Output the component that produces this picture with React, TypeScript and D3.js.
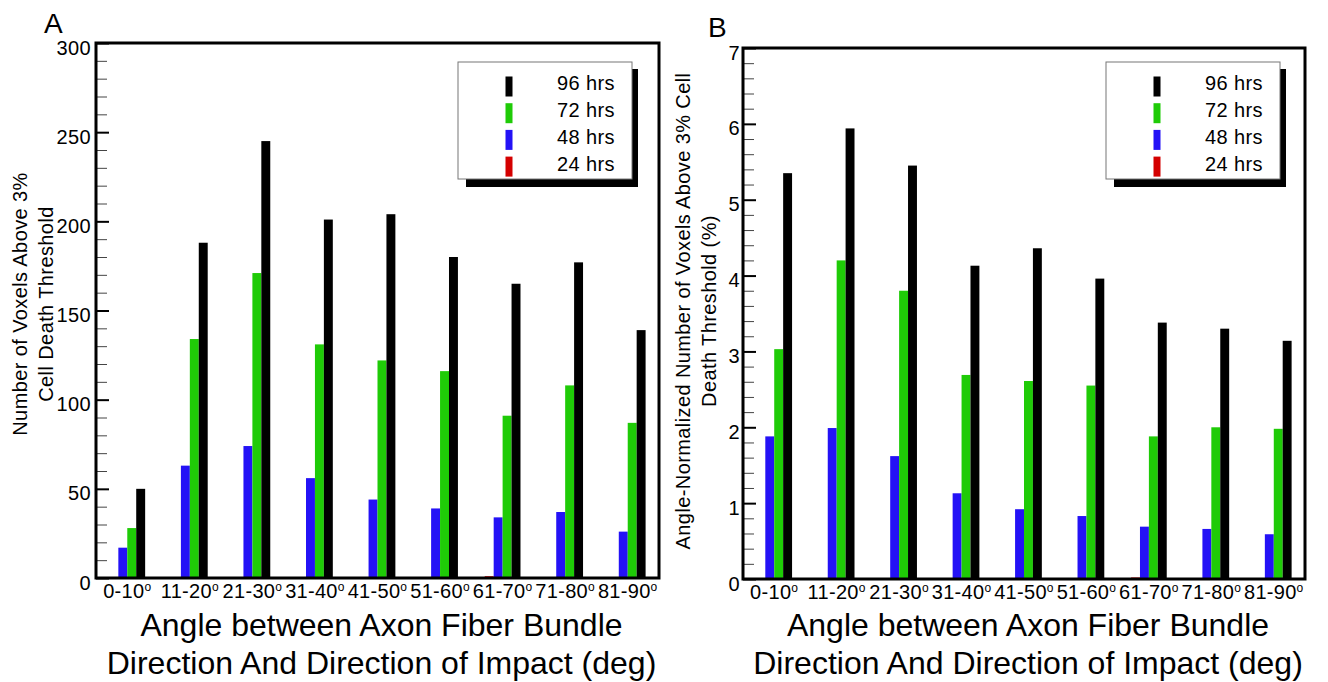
import React, { useEffect, useRef } from 'react';
import * as d3 from 'd3';

// angle bins (x categories)
const categories = ['0-10', '11-20', '21-30', '31-40', '41-50', '51-60', '61-70', '71-80', '81-90'];

// series, in bar order within a group
const seriesNames = ['24 hrs', '48 hrs', '72 hrs', '96 hrs'];
const seriesColors = ['#d40000', '#2412f6', '#1fcb07', '#000000'];
const legendOrder = ['96 hrs', '72 hrs', '48 hrs', '24 hrs'];

// panel A: number of voxels above 3% cell death threshold
const countA24 = [0, 0, 0, 0, 0, 0, 1, 0, 0];
const countA48 = [17, 63, 74, 56, 44, 39, 34, 37, 26];
const countA72 = [28, 134, 171, 131, 122, 116, 91, 108, 87];
const countA96 = [50, 188, 245, 201, 204, 180, 165, 177, 139];

// panel B: angle-normalized number of voxels (%)
const normB24 = [0, 0, 0, 0, 0, 0, 0.02, 0, 0];
const normB48 = [1.88, 1.99, 1.62, 1.13, 0.92, 0.83, 0.69, 0.66, 0.59];
const normB72 = [3.03, 4.2, 3.8, 2.69, 2.61, 2.55, 1.88, 2.0, 1.98];
const normB96 = [5.35, 5.94, 5.45, 4.13, 4.36, 3.96, 3.38, 3.3, 3.14];

const yTitleA = ['Number of Voxels Above 3%', 'Cell Death Threshold'];
const yTitleB = ['Angle-Normalized Number of Voxels Above 3% Cell', 'Death Threshold (%)'];
const xTitle = ['Angle between Axon Fiber Bundle', 'Direction And Direction of Impact (deg)'];

const FONT = '"Liberation Sans", Arial, Helvetica, sans-serif';

const color = d3.scaleOrdinal<string, string>().domain(seriesNames).range(seriesColors);

function drawPanel(svg, p) {
  const x0 = d3.scaleBand().domain(categories).range([p.left, p.right]);
  const x1 = d3.scaleBand().domain(seriesNames).range([0, x0.bandwidth()]).paddingOuter(1.5);
  const y = d3.scaleLinear().domain([0, p.max]).range([p.bottom, p.top]);

  // bars
  const rows = categories.map((c, i) => ({
    cat: c,
    values: p.series.map((s, k) => ({ key: seriesNames[k], v: s[i] })),
  }));
  svg.append('g')
    .selectAll('g')
    .data(rows)
    .join('g')
    .attr('transform', d => `translate(${x0(d.cat)},0)`)
    .selectAll('rect')
    .data(d => d.values.filter(v => v.v > 0))
    .join('rect')
    .attr('x', d => x1(d.key))
    .attr('width', x1.bandwidth())
    .attr('y', d => y(d.v))
    .attr('height', d => y(0) - y(d.v))
    .attr('fill', d => color(d.key));

  // minor ticks
  const perMajor = Math.round(p.major / p.minor);
  const minorVals = d3.range(Math.round(p.max / p.minor) + 1)
    .filter(i => i % perMajor !== 0)
    .map(i => i * p.minor);
  const minorAxis = svg.append('g')
    .attr('transform', `translate(${p.left},0)`)
    .call(d3.axisLeft(y).tickValues(minorVals).tickSizeInner(-11).tickSizeOuter(0).tickFormat(() => ''));
  minorAxis.select('.domain').remove();
  minorAxis.selectAll('line').attr('stroke', '#444').attr('stroke-width', 1);

  // major ticks + labels
  const majorVals = d3.range(Math.round(p.max / p.major) + 1).map(i => i * p.major);
  const yAxis = svg.append('g')
    .attr('transform', `translate(${p.left},0)`)
    .call(d3.axisLeft(y).tickValues(majorVals).tickSizeInner(-13).tickSizeOuter(0)
      .tickPadding(p.labelPad).tickFormat(d3.format('d')));
  yAxis.select('.domain').remove();
  yAxis.selectAll('line').attr('stroke', '#000').attr('stroke-width', 2);
  yAxis.selectAll('text')
    .attr('dy', '11px')
    .attr('fill', '#000')
    .style('font-family', FONT)
    .style('font-size', '20px')
    .style('letter-spacing', '0.4px');

  // x labels with degree-like superscript o
  const xAxis = svg.append('g')
    .attr('transform', `translate(0,${p.bottom})`)
    .call(d3.axisBottom(x0).tickSize(0).tickPadding(0));
  xAxis.select('.domain').remove();
  xAxis.selectAll('text')
    .attr('y', 20)
    .attr('dy', 0)
    .attr('fill', '#000')
    .style('font-family', FONT)
    .style('font-size', '20px')
    .style('letter-spacing', '0.3px')
    .each(function (d) {
      const t = d3.select(this);
      t.text(d);
      t.append('tspan').attr('dy', -7).style('font-size', '12px').text('o');
    });

  // frame
  svg.append('rect')
    .attr('x', p.left)
    .attr('y', p.top)
    .attr('width', p.right - p.left)
    .attr('height', p.bottom - p.top)
    .attr('fill', 'none')
    .attr('stroke', '#000')
    .attr('stroke-width', 3);

  // legend
  const lg = svg.append('g').attr('transform', `translate(${p.legendX},${p.legendY})`);
  lg.append('rect').attr('x', 8).attr('y', 7).attr('width', 172).attr('height', 118).attr('fill', '#000');
  lg.append('rect').attr('x', 0).attr('y', 0).attr('width', 174).attr('height', 117)
    .attr('fill', '#fff').attr('stroke', '#777').attr('stroke-width', 1);
  legendOrder.forEach((name, i) => {
    lg.append('rect')
      .attr('x', 47.5).attr('y', 14.5 + i * 26.7)
      .attr('width', 7).attr('height', 20)
      .attr('fill', color(name));
    lg.append('text')
      .attr('x', 99).attr('y', 27.6 + i * 27)
      .style('font-family', FONT).style('font-size', '20px').style('letter-spacing', '0.4px')
      .text(name);
  });

  // panel letter
  svg.append('text')
    .attr('x', p.letterX).attr('y', p.letterY)
    .style('font-family', FONT).style('font-size', '28px')
    .text(p.letter);

  // y title
  p.yTitle.forEach((line, i) => {
    const tx = p.yTitleX + i * 26;
    svg.append('text')
      .attr('transform', `translate(${tx},${p.yTitleY}) rotate(-90)`)
      .attr('text-anchor', 'middle')
      .style('font-family', FONT).style('font-size', '20px').style('letter-spacing', '0.4px')
      .text(line);
  });

  // x title
  const cx = (p.left + p.right) / 2 + 4;
  xTitle.forEach((line, i) => {
    svg.append('text')
      .attr('x', cx).attr('y', 636 + i * 38)
      .attr('text-anchor', 'middle')
      .style('font-family', FONT).style('font-size', '32px')
      .text(line);
  });
}

export default function App() {
  const svgRef = useRef(null);

  useEffect(() => {
    const svg = d3.select(svgRef.current);
    svg.selectAll('*').remove();

    drawPanel(svg, {
      left: 96, right: 659, top: 43, bottom: 578,
      max: 300, major: 50, minor: 10, labelPad: 5,
      series: [countA24, countA48, countA72, countA96],
      legendX: 458, legendY: 62,
      letter: 'A', letterX: 44, letterY: 33,
      yTitle: yTitleA, yTitleX: 27, yTitleY: 304,
    });

    drawPanel(svg, {
      left: 743, right: 1305, top: 48, bottom: 579,
      max: 7, major: 1, minor: 0.2, labelPad: 3,
      series: [normB24, normB48, normB72, normB96],
      legendX: 1106, legendY: 62,
      letter: 'B', letterX: 708, letterY: 37,
      yTitle: yTitleB, yTitleX: 690, yTitleY: 311,
    });
  }, []);

  return (
    <svg
      ref={svgRef}
      width="1328"
      height="682"
      style={{ position: 'absolute', left: 0, top: 0, background: '#fff' }}
    />
  );
}
